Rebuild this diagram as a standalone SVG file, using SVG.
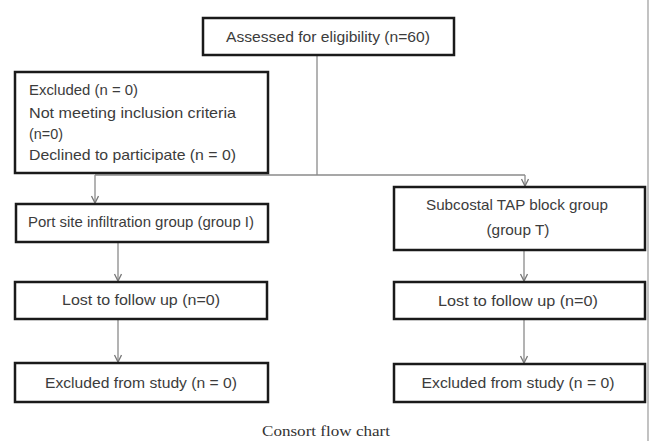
<svg xmlns="http://www.w3.org/2000/svg" width="651" height="441" viewBox="0 0 651 441">
<style>
.box{fill:#fff;stroke:#1a1a1a;stroke-width:2.5}
.t{font-family:"Liberation Sans",Arial,sans-serif;font-size:14.5px;fill:#3c3c3c}
.c{stroke:#8a8a8a;stroke-width:1.3;fill:none}
.ca{stroke:#8a8a8a;stroke-width:1.3;fill:none;marker-end:url(#ah)}
.cap{font-family:"Liberation Serif","Times New Roman",serif;font-size:15px;fill:#333}
</style>
<defs>
<marker id="ah" markerWidth="10" markerHeight="10" refX="8" refY="4" orient="auto" markerUnits="userSpaceOnUse">
<path d="M1,0.5 L8,4 L1,7.5" fill="none" stroke="#777" stroke-width="1.3"/>
</marker>
</defs>
<rect width="651" height="441" fill="#fff"/>
<line x1="648" y1="0" x2="648" y2="441" stroke="#9a9a9a" stroke-width="1.2"/>
<g id="connectors">
<line class="c" x1="317" y1="55" x2="317" y2="175"/>
<line class="c" x1="95" y1="175" x2="525" y2="175"/>
<line class="ca" x1="95" y1="175" x2="95" y2="203"/>
<line class="ca" x1="525" y1="175" x2="525" y2="186"/>
<line class="ca" x1="118" y1="243" x2="118" y2="281"/>
<line class="ca" x1="118" y1="320" x2="118" y2="362"/>
<line class="ca" x1="524" y1="251" x2="524" y2="281"/>
<line class="ca" x1="524" y1="320" x2="524" y2="363"/>
</g>
<g id="assessed">
<rect class="box" x="203" y="18" width="251" height="37"/>
<text class="t" x="328" y="42" text-anchor="middle" textLength="204" lengthAdjust="spacingAndGlyphs">Assessed for eligibility (n=60)</text>
</g>
<g id="excluded">
<rect class="box" x="15" y="72" width="253" height="101"/>
<text class="t" x="29" y="95" textLength="109" lengthAdjust="spacingAndGlyphs">Excluded (n = 0)</text>
<text class="t" x="29" y="118" textLength="207" lengthAdjust="spacingAndGlyphs">Not meeting inclusion criteria</text>
<text class="t" x="29" y="139" textLength="34" lengthAdjust="spacingAndGlyphs">(n=0)</text>
<text class="t" x="29" y="160" textLength="207" lengthAdjust="spacingAndGlyphs">Declined to participate (n = 0)</text>
</g>
<g id="groupI">
<rect class="box" x="16" y="204" width="252" height="38"/>
<text class="t" x="141" y="227" text-anchor="middle" font-size="13.5" textLength="226" lengthAdjust="spacingAndGlyphs">Port site infiltration group (group I)</text>
</g>
<g id="groupT">
<rect class="box" x="394" y="187" width="251" height="63"/>
<text class="t" x="517" y="210" text-anchor="middle" textLength="182" lengthAdjust="spacingAndGlyphs">Subcostal TAP block group</text>
<text class="t" x="518" y="235" text-anchor="middle" textLength="63" lengthAdjust="spacingAndGlyphs">(group T)</text>
</g>
<g id="lostI">
<rect class="box" x="15" y="282" width="252" height="37"/>
<text class="t" x="141" y="305" text-anchor="middle" textLength="158" lengthAdjust="spacingAndGlyphs">Lost to follow up (n=0)</text>
</g>
<g id="lostT">
<rect class="box" x="394" y="282" width="251" height="37"/>
<text class="t" x="518" y="306" text-anchor="middle" textLength="160" lengthAdjust="spacingAndGlyphs">Lost to follow up (n=0)</text>
</g>
<g id="exclI">
<rect class="box" x="15" y="363" width="253" height="39"/>
<text class="t" x="141" y="388" text-anchor="middle" textLength="192" lengthAdjust="spacingAndGlyphs">Excluded from study (n = 0)</text>
</g>
<g id="exclT">
<rect class="box" x="394" y="364" width="251" height="38"/>
<text class="t" x="518" y="388" text-anchor="middle" textLength="193" lengthAdjust="spacingAndGlyphs">Excluded from study (n = 0)</text>
</g>
<text class="cap" x="326" y="436" text-anchor="middle" textLength="128" lengthAdjust="spacingAndGlyphs">Consort flow chart</text>
</svg>
